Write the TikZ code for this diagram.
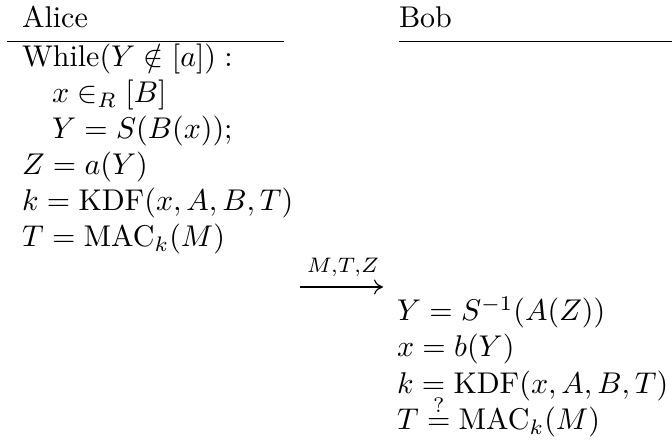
\documentclass[tikz,border=0pt]{standalone}
\usepackage{amsmath}
\usetikzlibrary{arrows.meta}
\tikzset{
  txt/.style={anchor=base west, inner sep=0pt, outer sep=0pt},
  hrule/.style={line width=0.65pt},
  msg/.style={line width=0.4pt, -{To[length=3pt,width=5pt]}}
}
\begin{document}
\begin{tikzpicture}[x=1pt/3, y=-1pt/3]
\useasboundingbox (0,0) rectangle (672,443);
% headers
\node[txt] (alice) at (22,28) {Alice};
\node[txt] (bob) at (399,28) {Bob};
\coordinate (ar1) at (7,41.5);
\coordinate (ar2) at (284,41.5);
\coordinate (br1) at (399,41.5);
\coordinate (br2) at (672,41.5);
\draw[hrule] (ar1) -- (ar2);
\draw[hrule] (br1) -- (br2);
% Alice
\node[txt] (a1) at (22,67) {$\text{While}(Y \notin [a]):$};
\node[txt] (a2) at (22,103) {$\quad x \in_R [B]$};
\node[txt] (a3) at (22,139) {$\quad Y = S(B(x));$};
\node[txt] (a4) at (22,175) {$Z = a(Y)$};
\node[txt] (a5) at (22,211) {$k = \mathrm{KDF}(x,A,B,T)$};
\node[txt] (a6) at (22,247) {$T = \mathrm{MAC}_k(M)$};
% message
\coordinate (m1) at (300,287);
\coordinate (m2) at (383,287);
\draw[msg] (m1) -- (m2);
\node[inner sep=0pt, anchor=base] (lab) at (343,273) {$\scriptstyle M,T,Z$};
% Bob
\node[txt] (b1) at (397,321) {$Y = S^{-1}(A(Z))$};
\node[txt] (b2) at (397,357) {$x = b(Y)$};
\node[txt] (b3) at (397,394) {$k = \mathrm{KDF}(x,A,B,T)$};
\node[txt] (b4) at (397,430) {$T \stackrel{?}{=} \mathrm{MAC}_k(M)$};
\end{tikzpicture}
\end{document}
